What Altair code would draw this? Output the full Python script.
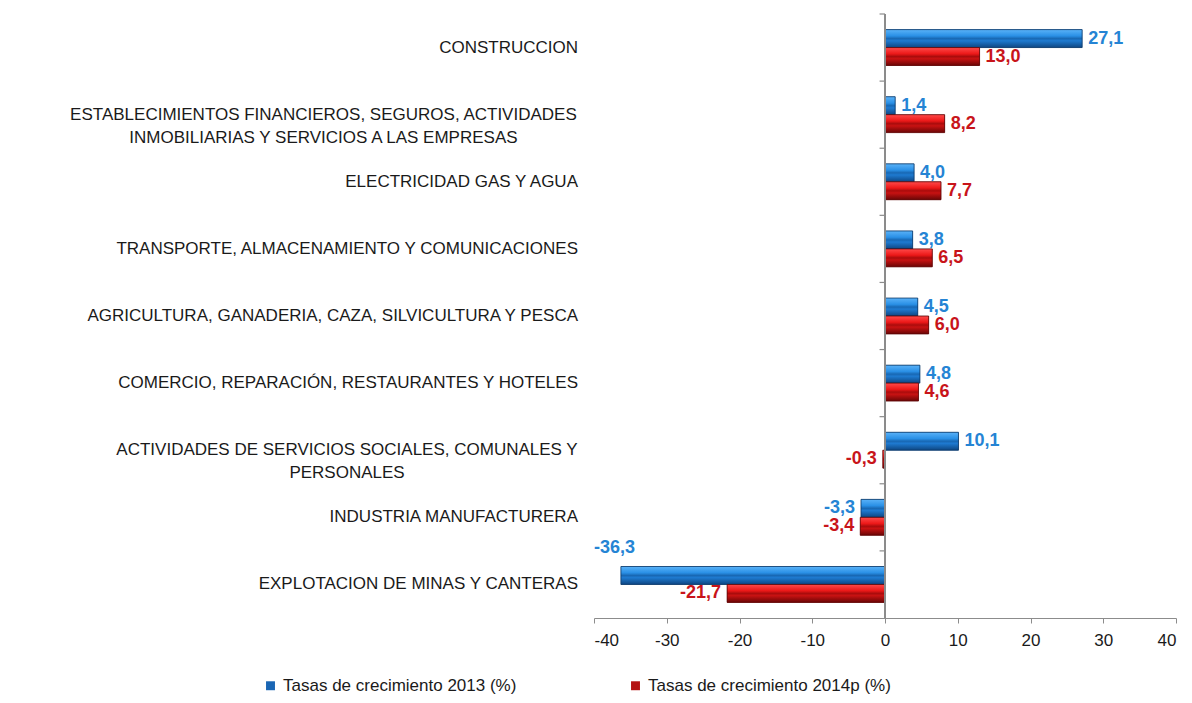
import altair as alt
import pandas as pd

# ---------------- data ----------------
categorias = [
    ["CONSTRUCCION"],
    ["ESTABLECIMIENTOS FINANCIEROS, SEGUROS, ACTIVIDADES", "INMOBILIARIAS Y SERVICIOS A LAS EMPRESAS"],
    ["ELECTRICIDAD GAS Y AGUA"],
    ["TRANSPORTE, ALMACENAMIENTO Y COMUNICACIONES"],
    ["AGRICULTURA, GANADERIA, CAZA, SILVICULTURA Y PESCA"],
    ["COMERCIO, REPARACIÓN, RESTAURANTES Y HOTELES"],
    ["ACTIVIDADES DE SERVICIOS SOCIALES, COMUNALES Y", "PERSONALES"],
    ["INDUSTRIA MANUFACTURERA"],
    ["EXPLOTACION DE MINAS Y CANTERAS"],
]
tasas_2013 = [27.1, 1.4, 4.0, 3.8, 4.5, 4.8, 10.1, -3.3, -36.3]
tasas_2014p = [13.0, 8.2, 7.7, 6.5, 6.0, 4.6, -0.3, -3.4, -21.7]
series = ["Tasas de crecimiento 2013 (%)", "Tasas de crecimiento 2014p (%)"]
x_ticks = [-40, -30, -20, -10, 0, 10, 20, 30, 40]

# ---------------- styling ----------------
FONT = "Liberation Sans"
CAT_FS = 17
BLUE = "#1a66b4"
RED = "#b41414"
BLUE_TXT = "#2584d4"
RED_TXT = "#c8141a"
AXIS_GREY = "#8c8c8c"
LABEL_GAP = 16  # px between category labels and plot area

# Liberation Sans (Arial metrics) widths, used to centre wrapped labels
ARIAL = {c: w for c, w in zip("ABCDEFGHIJKLMNOPQRSTUVWXYZ",
        [667, 667, 722, 722, 667, 611, 778, 722, 278, 500, 667, 556, 833,
         722, 778, 667, 778, 722, 667, 611, 722, 667, 944, 667, 667, 611])}
ARIAL.update({" ": 278, ",": 278, "Ó": 778, "Á": 667, "É": 667, "Í": 278})


def text_width(s, size):
    return sum(ARIAL.get(ch, 600) for ch in s) * size / 1000.0


etiquetas = ["|".join(l) for l in categorias]


def fmt(v):
    return f"{v:.1f}".replace(".", ",")


rows = []
for cat, a, b in zip(etiquetas, tasas_2013, tasas_2014p):
    rows.append({"cat": cat, "serie": series[0], "valor": a, "txt": fmt(a)})
    rows.append({"cat": cat, "serie": series[1], "valor": b, "txt": fmt(b)})
df = pd.DataFrame(rows)
df_cat = pd.DataFrame({"cat": etiquetas, "nlines": [len(l) for l in categorias]})

blue_grad = alt.Gradient(
    gradient="linear", x1=0, x2=0, y1=0, y2=1,
    stops=[alt.GradientStop(color="#5ab2f8", offset=0),
           alt.GradientStop(color="#2a90e6", offset=0.35),
           alt.GradientStop(color="#1868b4", offset=0.5),
           alt.GradientStop(color="#1e7ad0", offset=0.62),
           alt.GradientStop(color="#0e4682", offset=1)])
red_grad = alt.Gradient(
    gradient="linear", x1=0, x2=0, y1=0, y2=1,
    stops=[alt.GradientStop(color="#ff4a4a", offset=0),
           alt.GradientStop(color="#ec1818", offset=0.35),
           alt.GradientStop(color="#aa0c0c", offset=0.5),
           alt.GradientStop(color="#c81212", offset=0.62),
           alt.GradientStop(color="#6a0606", offset=1)])

y_scale = alt.Scale(paddingInner=0, paddingOuter=0)
y_enc = alt.Y("cat:N", sort=etiquetas, title=None, scale=y_scale, axis=None)
x_scale = alt.Scale(domain=[-40, 40], nice=False, zero=False)
x_enc = alt.X(
    "valor:Q", scale=x_scale, title=None,
    axis=alt.Axis(values=x_ticks, grid=False, domainColor=AXIS_GREY,
                  tickColor=AXIS_GREY, tickSize=5, labelPadding=9,
                  labelExpr="'' + datum.value",
                  labelFontSize=17, labelColor="#1a1a1a", labelFont=FONT),
)
yoff = alt.YOffset("serie:N", scale=alt.Scale(domain=series, paddingOuter=0.87, paddingInner=0))

base = alt.Chart(df)

bars = base.mark_bar().encode(
    y=y_enc, x=x_enc, yOffset=yoff,
    color=alt.Color("serie:N", scale=alt.Scale(domain=series, range=[BLUE, RED]),
                    legend=alt.Legend(orient="none", legendX=-332, legendY=663,
                                      direction="horizontal", title=None,
                                      symbolType="square", symbolSize=80,
                                      symbolStrokeWidth=0,
                                      labelFontSize=17, labelFont=FONT,
                                      labelColor="#1a1a1a", labelLimit=500,
                                      labelOffset=4, columnPadding=110,
                                      padding=0)),
)

bars_blue = base.transform_filter(alt.datum.serie == series[0]).mark_bar(
    color=blue_grad, stroke="#0b3766", strokeWidth=0.8).encode(
    y=y_enc, x=x_enc, yOffset=yoff)
bars_red = base.transform_filter(alt.datum.serie == series[1]).mark_bar(
    color=red_grad, stroke="#5a0404", strokeWidth=0.8).encode(
    y=y_enc, x=x_enc, yOffset=yoff)

txt_color = alt.condition(alt.datum.serie == series[0], alt.value(BLUE_TXT), alt.value(RED_TXT))
txt_style = dict(baseline="middle", fontSize=18, fontWeight="bold", font=FONT)

txt_pos = base.transform_filter(alt.datum.valor >= 0).mark_text(
    align="left", dx=6, **txt_style).encode(
    y=y_enc, x=x_enc, yOffset=yoff, text="txt:N", color=txt_color)
txt_neg = base.transform_filter((alt.datum.valor < 0) & (alt.datum.valor >= -32)).mark_text(
    align="right", dx=-6, **txt_style).encode(
    y=y_enc, x=x_enc, yOffset=yoff, text="txt:N", color=txt_color)
txt_far = base.transform_filter(alt.datum.valor < -32).mark_text(
    align="right", dx=14, dy=-27, **txt_style).encode(
    y=y_enc, x=x_enc, yOffset=yoff, text="txt:N", color=txt_color)

zero_line = alt.Chart(df_cat).mark_rule(color=AXIS_GREY, strokeWidth=1.2).encode(
    x=alt.X(datum=0, scale=x_scale))
cat_ticks = alt.Chart(df_cat).mark_rule(color=AXIS_GREY, strokeWidth=1.2).encode(
    y=alt.Y("cat:N", sort=etiquetas, bandPosition=0, scale=y_scale, title=None, axis=None),
    x=alt.X(datum=-0.75, scale=x_scale),
    x2=alt.X2(datum=0),
)

# category labels: single-line ones right aligned, wrapped ones centred line by line
lbl_style = dict(baseline="middle", fontSize=CAT_FS, font=FONT, color="#1a1a1a")
cat_layers = [
    alt.Chart(df_cat).transform_filter(alt.datum.nlines == 1).mark_text(
        align="right", **lbl_style).encode(
        y=y_enc, x=alt.value(-LABEL_GAP), text="cat:N")
]
for lines, cat in zip(categorias, etiquetas):
    if len(lines) > 1:
        w = max(text_width(s, CAT_FS) for s in lines)
        cat_layers.append(
            alt.Chart(df_cat).transform_filter(alt.datum.cat == cat).mark_text(
                align="center", lineBreak="|", lineHeight=23, **lbl_style).encode(
                y=y_enc, x=alt.value(-LABEL_GAP - w / 2), text="cat:N")
        )

chart = alt.layer(
    bars, bars_blue, bars_red, zero_line, cat_ticks, txt_pos, txt_neg, txt_far, *cat_layers
).properties(
    width=582, height=604, autosize="none",
    padding={"left": 586, "top": 6, "right": 8, "bottom": 77},
).configure(font=FONT, view=alt.ViewConfig(stroke=None))

chart.save("out.html", embed_options={"renderer": "svg", "actions": False})
